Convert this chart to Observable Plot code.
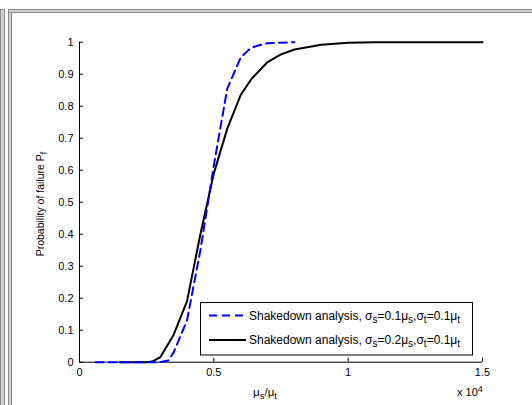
<!DOCTYPE html>
<html>
<head>
<meta charset="utf-8">
<script src="https://cdn.jsdelivr.net/npm/d3@7"></script>
<script src="https://cdn.jsdelivr.net/npm/@observablehq/plot@0.6"></script>
<style>
  html, body { margin: 0; padding: 0; background: #fff; }
  #wrap { position: relative; width: 532px; height: 405px; overflow: hidden; font-family: "Liberation Sans", Arial, sans-serif; }
  .fr { position: absolute; background: #d0d0d0; box-sizing: border-box; border: 1px solid #8c8c8c; }
  #chart { position: absolute; left: 0; top: 0; }
</style>
</head>
<body>
<div id="wrap">
  <div class="fr" style="left:0px; top:9px; width:5px; height:400px;"></div>
  <div class="fr" style="left:8px; top:9px; width:4px; height:400px;"></div>
  <div class="fr" style="left:8px; top:9px; width:530px; height:4px;"></div>
  <div id="chart"></div>
</div>
<script>
// ---- data ----
const seriesNames = [
  "Shakedown analysis, σs=0.1μs,σt=0.1μt",
  "Shakedown analysis, σs=0.2μs,σt=0.1μt"
];
const xA = [600, 1500, 2500, 3000, 3300, 3500, 4000, 4500, 5000, 5500, 6000, 6300, 6500, 7000, 8000];
const yA = [0, 0, 0, 0, 0.005, 0.03, 0.13, 0.35, 0.615, 0.855, 0.952, 0.976, 0.986, 0.997, 1];
const xB = [1500, 2500, 2700, 3000, 3500, 4000, 4500, 5000, 5500, 6000, 6400, 7000, 7500, 8000, 9000, 10000, 11000, 15000];
const yB = [0, 0, 0.002, 0.015, 0.085, 0.19, 0.40, 0.59, 0.73, 0.835, 0.885, 0.938, 0.962, 0.977, 0.992, 0.998, 1, 1];
const xTicks = [0, 5000, 10000, 15000];
const yTicks = [0, 0.1, 0.2, 0.3, 0.4, 0.5, 0.6, 0.7, 0.8, 0.9, 1];

const dataA = xA.map((x, i) => ({x, y: yA[i]}));
const dataB = xB.map((x, i) => ({x, y: yB[i]}));

const FONT = "Liberation Sans, Arial, sans-serif";

const svg = Plot.plot({
  width: 532,
  height: 405,
  marginLeft: 79,
  marginRight: 50,
  marginTop: 41.7,
  marginBottom: 43.3,
  style: {background: "transparent", fontFamily: FONT, fontSize: "11px", color: "#000"},
  x: {domain: [0, 15000], label: null},
  y: {domain: [0, 1], label: null},
  marks: [
    Plot.axisX({ticks: xTicks, tickSize: 0, tickPadding: 6, fontSize: 11, tickFormat: d => String(d / 1e4), label: null}),
    Plot.axisY({ticks: yTicks, tickSize: 0, tickPadding: 6, fontSize: 11, tickFormat: d => String(+d.toFixed(1)), label: null}),
    Plot.ruleX(xTicks, {x: d => d, y1: 0, y2: 0, insetTop: -4, stroke: "#000", strokeWidth: 1}),
    Plot.ruleY(yTicks, {y: d => d, x1: 0, x2: 0, insetRight: -4, stroke: "#000", strokeWidth: 1}),
    Plot.ruleY([0], {stroke: "#000", strokeWidth: 1}),
    Plot.ruleX([0], {stroke: "#000", strokeWidth: 1}),
    Plot.line(dataB, {x: "x", y: "y", stroke: "#000", strokeWidth: 2}),
    Plot.line(dataA, {x: "x", y: "y", stroke: "#0000ff", strokeWidth: 2, strokeDasharray: "8,5"})
  ]
});
document.getElementById("chart").appendChild(svg);

// ---- annotations: axis labels, exponent, legend ----
const s = d3.select(svg);
const g = s.append("g").attr("font-family", FONT).attr("font-size", 11).attr("fill", "#000");

function sub(textSel, parts, subSize) {
  parts.forEach(([t, kind]) => {
    const ts = textSel.append("tspan").text(t);
    if (kind === "sub") ts.attr("baseline-shift", "-30%").attr("font-size", subSize);
    if (kind === "sup") ts.attr("baseline-shift", "45%").attr("font-size", subSize);
  });
}

// x label
const xl = g.append("text").attr("x", 265).attr("y", 396).attr("text-anchor", "middle").attr("font-size", 11.5);
sub(xl, [["μ"], ["s", "sub"], ["/μ"], ["t", "sub"]], 9.5);

// y label
const yl = g.append("text").attr("transform", "translate(44,204) rotate(-90)").attr("text-anchor", "middle").attr("font-size", 10.5);
sub(yl, [["Probability of failure P"], ["f", "sub"]], 9);

// exponent
const ex = g.append("text").attr("x", 457).attr("y", 396).attr("text-anchor", "start");
sub(ex, [["x 10"], ["4", "sup"]], 9);

// legend
const lg = s.append("g").attr("font-family", FONT).attr("font-size", 12).attr("text-anchor", "start");
lg.append("rect").attr("x", 200.5).attr("y", 302.5).attr("width", 272).attr("height", 52.5)
  .attr("fill", "#fff").attr("stroke", "#000").attr("stroke-width", 1);
const legendItems = [
  {name: seriesNames[0], stroke: "#0000ff", dash: "8,5", parts: [["Shakedown analysis, σ"], ["s", "sub"], ["=0.1μ"], ["s", "sub"], [",σ"], ["t", "sub"], ["=0.1μ"], ["t", "sub"]]},
  {name: seriesNames[1], stroke: "#000", dash: null, parts: [["Shakedown analysis, σ"], ["s", "sub"], ["=0.2μ"], ["s", "sub"], [",σ"], ["t", "sub"], ["=0.1μ"], ["t", "sub"]]}
];
legendItems.forEach((it, i) => {
  const cy = 315.5 + i * 24.5;
  const ln = lg.append("line").attr("x1", 209).attr("x2", 246).attr("y1", cy).attr("y2", cy)
    .attr("stroke", it.stroke).attr("stroke-width", 2).attr("fill", "none");
  if (it.dash) ln.attr("stroke-dasharray", it.dash);
  const t = lg.append("text").attr("x", 249).attr("y", cy + 4).attr("fill", "#000").attr("text-anchor", "start");
  sub(t, it.parts, 10);
});
</script>
</body>
</html>
